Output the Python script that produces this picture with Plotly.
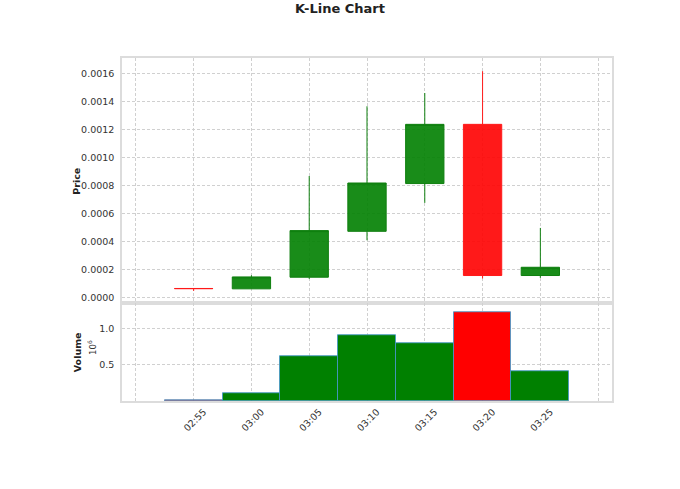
import plotly.graph_objects as go
from plotly.subplots import make_subplots

# candle data, 5 minute bars
times = ["02:55", "03:00", "03:05", "03:10", "03:15", "03:20", "03:25"]
opens = [0.0000675, 0.000065, 0.000148, 0.000476, 0.000817, 0.00124, 0.000160]
highs = [0.0000675, 0.000162, 0.000871, 0.001369, 0.001464, 0.00162, 0.000500]
lows = [0.000050, 0.000065, 0.000136, 0.000412, 0.000679, 0.000139, 0.000143]
closes = [0.0000665, 0.000150, 0.000481, 0.000821, 0.001240, 0.000160, 0.000219]
volumes = [0.012, 0.10, 0.61, 0.90, 0.79, 1.22, 0.405]  # in 10^6

# grid also has an empty slot on each side
tick_pos = list(range(-1, len(times) + 1))
tick_txt = [""] + times + [""]
idx = list(range(len(times)))

font = "DejaVu Sans"
grid = "#d0d0d0"
frame = "#dcdcdc"

vol_colors = ["red" if c < o else "green" for o, c in zip(opens, closes)]

fig = make_subplots(rows=2, cols=1, shared_xaxes=True, vertical_spacing=0)

fig.add_trace(go.Candlestick(
	x=idx, open=opens, high=highs, low=lows, close=closes,
	increasing=dict(line=dict(color="#0f7f0f", width=1), fillcolor="rgba(0,128,0,0.9)"),
	decreasing=dict(line=dict(color="#ff1a1a", width=1), fillcolor="rgba(255,0,0,0.9)"),
	showlegend=False, hoverinfo="skip"), 1, 1)

fig.add_trace(go.Bar(
	x=idx, y=volumes, width=1,
	marker=dict(color=vol_colors, line=dict(color="rgba(70,150,200,0.85)", width=1)),
	showlegend=False, hoverinfo="skip"), 2, 1)

axis_common = dict(
	showgrid=True, gridcolor=grid, griddash="3px,2px", gridwidth=1,
	showline=True, mirror=True, linecolor=frame, linewidth=1.5,
	zeroline=False, ticks="outside", ticklen=4, tickcolor="rgba(0,0,0,0)",
	tickfont=dict(family=font, size=9.5, color="#333333"))

fig.update_xaxes(axis_common, range=[-1.24, 7.24], tickmode="array",
	tickvals=tick_pos, ticktext=tick_txt, rangeslider_visible=False)
fig.update_xaxes(showticklabels=False, row=1, col=1)
fig.update_xaxes(tickangle=-45, ticks="", ticklabelshift=10, row=2, col=1)

fig.update_yaxes(axis_common)
fig.update_yaxes(range=[-0.000038, 0.001714], dtick=0.0002, tickformat=".4f",
	domain=[0.285, 1], row=1, col=1)
fig.update_yaxes(range=[0, 1.345], tickmode="array", tickvals=[0.5, 1.0],
	ticktext=["0.5", "1.0"], domain=[0, 0.285], row=2, col=1)

fig.update_layout(
	width=680, height=489,
	margin=dict(l=122, r=68, t=58, b=88),
	paper_bgcolor="white", plot_bgcolor="white",
	boxgap=0.337, boxgroupgap=0, bargap=0,
	font=dict(family=font, color="#333333"),
	title=dict(text="<b>K-Line Chart</b>", x=0.5, xanchor="center", y=0.982, yanchor="middle",
		font=dict(family=font, size=13, color="#222222")),
	annotations=[
		dict(text="<b>Price</b>", xref="paper", yref="paper", x=-0.092, y=0.642,
			xanchor="center", yanchor="middle",
			textangle=-90, showarrow=False, font=dict(family=font, size=9.5, color="#222222")),
		dict(text="<b>Volume</b>", xref="paper", yref="paper", x=-0.092, y=0.142,
			xanchor="center", yanchor="middle",
			textangle=-90, showarrow=False, font=dict(family=font, size=9.5, color="#222222")),
		dict(text="10<sup>6</sup>", xref="paper", yref="paper", x=-0.061, y=0.155,
			xanchor="center", yanchor="middle",
			textangle=-90, showarrow=False, font=dict(family=font, size=8.5, color="#333333")),
	])

fig.write_html("out.html", config={"displayModeBar": False},
	post_script="document.body.style.margin='0';")
